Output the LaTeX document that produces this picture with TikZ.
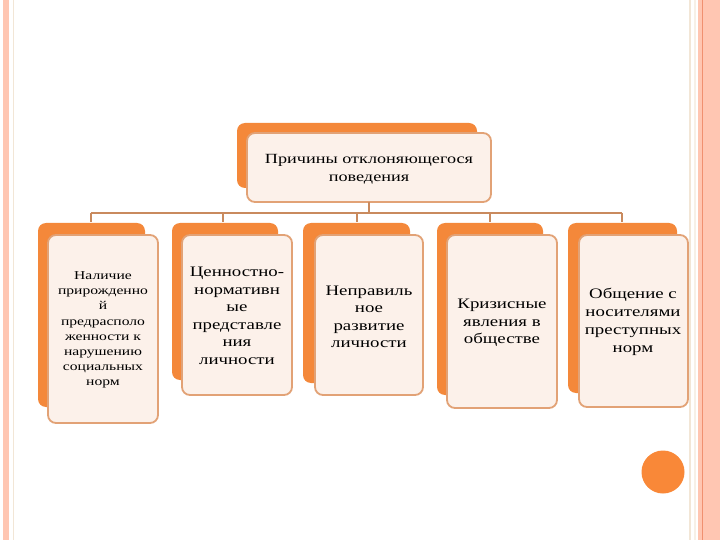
\documentclass[tikz,border=0pt]{standalone}
\usepackage{fontspec}
\setmainfont{Liberation Serif}[FakeStretch=1.3]
\definecolor{backor}{HTML}{F4883A}
\definecolor{frontfill}{HTML}{FCF1EA}
\definecolor{frontdraw}{HTML}{E2A276}
\definecolor{linec}{HTML}{C98A5E}
\definecolor{stripe}{HTML}{FFC6B2}
\definecolor{stripedark}{HTML}{F09070}
\definecolor{paleline}{HTML}{F2E6D6}
\definecolor{dotor}{HTML}{F98838}
\tikzset{
  backbox/.style={fill=backor, rounded corners=8pt},
  frontbox/.style={fill=frontfill, draw=frontdraw, line width=1.8pt, rounded corners=8pt},
  conn/.style={draw=linec, line width=1.6pt},
  lbl/.style={align=center, font=\fontsize{13}{15}\selectfont, inner sep=0pt},
}
\begin{document}
\begin{tikzpicture}[x=1pt,y=-1pt]
\useasboundingbox (0,0) rectangle (720,540);
\fill[white] (0,0) rectangle (720,540);
% slide decorations
\fill[stripe] (3,0) rectangle (8.5,540);
\fill[paleline] (12.5,0) rectangle (14,540);
\fill[paleline] (689,0) rectangle (690.5,540);
\fill[paleline!60] (694,0) rectangle (695.5,540);
\fill[stripe] (698,0) rectangle (720,540);
\fill[stripedark] (701.5,0) rectangle (703,540);
\fill[dotor] (663,472) circle (21.5);

% top box
\fill[backbox] (237,123) rectangle (477,188);
\draw[frontbox] (247,133) rectangle (491,202);
\node[lbl, font=\fontsize{14}{18}\selectfont] (top) at (369,169.5) {Причины отклоняющегося\\поведения};
\coordinate (topb) at (369,202);

% lower boxes
\fill[backbox] (38,223) rectangle (145,407);
\draw[frontbox] (48,235) rectangle (158,423);
\fill[backbox] (172,223) rectangle (278,380);
\draw[frontbox] (182,235) rectangle (292,395);
\fill[backbox] (303,223) rectangle (410,383);
\draw[frontbox] (315,235) rectangle (423,395);
\fill[backbox] (437,223) rectangle (543,395);
\draw[frontbox] (447,235) rectangle (557,408);
\fill[backbox] (568,223) rectangle (677,393);
\draw[frontbox] (579,235) rectangle (688,407);

\node[lbl, font=\fontsize{12}{15.2}\selectfont] (b1) at (103,330) {Наличие\\прирожденно\\й\\предрасполо\\женности к\\нарушению\\социальных\\норм};
\node[lbl, font=\fontsize{14.5}{17.5}\selectfont] (b2) at (237,316) {Ценностно-\\нормативн\\ые\\представле\\ния\\личности};
\node[lbl, font=\fontsize{14.5}{17.5}\selectfont] (b3) at (369,317) {Неправиль\\ное\\развитие\\личности};
\node[lbl, font=\fontsize{14.5}{17.5}\selectfont] (b4) at (502,323) {Кризисные\\явления в\\обществе};
\node[lbl, font=\fontsize{14.5}{18}\selectfont] (b5) at (633,322) {Общение с\\носителями\\преступных\\норм};

% connectors
\coordinate (h) at (369,213);
\coordinate (l1) at (91,213);
\coordinate (l5) at (622,213);
\coordinate (t1) at (91,222);
\coordinate (t2) at (223,222);
\coordinate (t3) at (357,222);
\coordinate (t4) at (490,222);
\coordinate (t5) at (622,222);
\draw[conn] (topb) -- (h);
\draw[conn] (l1) -- (l5);
\draw[conn] (l1) -- (t1);
\draw[conn] (t2 |- h) -- (t2);
\draw[conn] (t3 |- h) -- (t3);
\draw[conn] (t4 |- h) -- (t4);
\draw[conn] (l5) -- (t5);
\end{tikzpicture}
\end{document}
